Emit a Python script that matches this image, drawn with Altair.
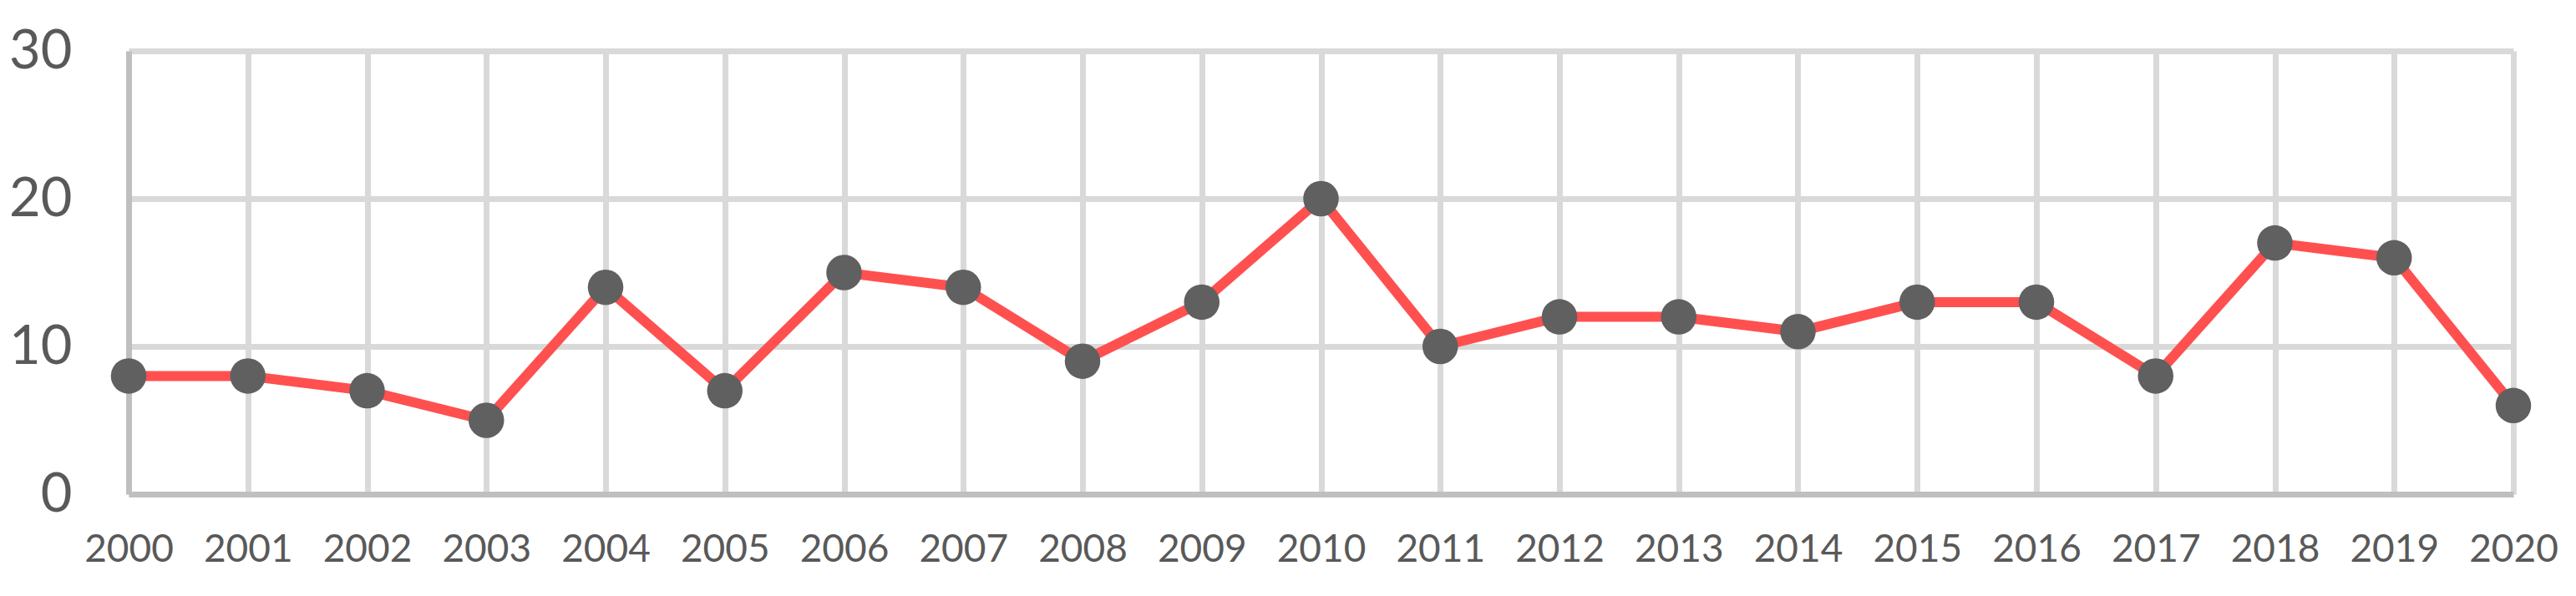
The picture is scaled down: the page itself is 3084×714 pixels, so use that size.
import altair as alt
import pandas as pd

years = list(range(2000, 2021))
values = [8, 8, 7, 5, 14, 7, 15, 14, 9, 13, 20, 10, 12, 12, 11, 13, 13, 8, 17, 16, 6]
y_ticks = [0, 10, 20, 30]

df = pd.DataFrame({"year": years, "value": values})

x_enc = alt.X(
    "year:Q",
    scale=alt.Scale(domain=[2000, 2020], nice=False, zero=False),
    axis=alt.Axis(
        values=years, format="d", title=None, grid=True, gridColor="#d9d9d9",
        gridWidth=7, domainColor="#bfbfbf", domainWidth=7, ticks=False,
        labelFont="Lato", labelFontSize=46, labelColor="#595959",
        labelPadding=66, labelBaseline="middle", labelFlush=False,
        labelOverlap=False,
    ),
)
y_enc = alt.Y(
    "value:Q",
    scale=alt.Scale(domain=[0, 30], nice=False),
    axis=alt.Axis(
        values=y_ticks, title=None, grid=True, gridColor="#d9d9d9",
        gridWidth=7, domainColor="#bfbfbf", domainWidth=7, ticks=False,
        labelFont="Lato", labelFontSize=65, labelColor="#595959",
        labelPadding=68, labelFlush=False,
    ),
)

line = alt.Chart(df).mark_line(color="#ff5050", strokeWidth=12).encode(x=x_enc, y=y_enc)
pts = alt.Chart(df).mark_circle(color="#606060", size=1810, opacity=1).encode(x=x_enc, y=y_enc)

chart = (
    alt.layer(line, pts)
    .properties(
        width=2855, height=531,
        autosize=alt.AutoSizeParams(type="none"),
        padding={"left": 146, "top": 53, "right": 60, "bottom": 100},
    )
    .configure_view(stroke=None)
)

chart.save("out.html", embed_options={"renderer": "svg", "actions": False})
